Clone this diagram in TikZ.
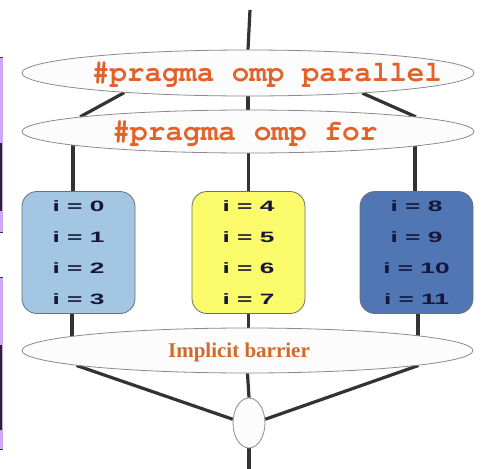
\documentclass[tikz,border=0pt]{standalone}
\usepackage{fontspec}
\setmainfont{Liberation Serif}
\setsansfont{Liberation Sans}
\setmonofont{TeX Gyre Cursor}
\usetikzlibrary{shapes.geometric,backgrounds}
\definecolor{wire}{HTML}{333333}
\definecolor{rim}{HTML}{8A8A8A}
\definecolor{orng}{HTML}{E3622A}
\definecolor{orngb}{HTML}{D2692C}
\definecolor{ink}{HTML}{16163A}
\definecolor{lblue}{HTML}{A3C6E2}
\definecolor{ylw}{HTML}{FAFA6A}
\definecolor{dblue}{HTML}{5076B4}
\definecolor{lilac}{HTML}{D0A6FA}
\tikzset{
  wirel/.style={draw=wire,line width=3.2pt},
  oval/.style={ellipse,draw=rim,line width=0.8pt,fill=white!98!gray,inner sep=0pt},
  pragtext/.style={text=orng,font=\fontsize{23}{24}\selectfont\ttfamily\bfseries,inner sep=0pt},
  bartext/.style={text=orngb,font=\fontsize{21}{22}\selectfont\bfseries,inner sep=0pt},
  iterbox/.style={rectangle,rounded corners=15pt,draw=rim!80!black,line width=0.8pt,
    minimum width=113pt,minimum height=122pt,inner sep=0pt,align=center,text=ink,
    font=\fontsize{15}{31}\selectfont\sffamily\bfseries},
}
\newcommand{\wideit}[1]{\scalebox{1.75}[1]{#1}}
\begin{document}
\begin{tikzpicture}[x=1pt,y=-1pt]
\useasboundingbox (0,0) rectangle (483,469);
% left edge artefacts
\fill[lilac] (0,57) rectangle (3,233);
\fill[black!85] (0,143) rectangle (2,211);
\fill[black!80] (0,56.5) rectangle (3,58);
\fill[black!80] (0,231.5) rectangle (3,233);
\fill[lilac] (0,277) rectangle (3,450);
\fill[black!85] (0,345) rectangle (2,430);
\fill[black!80] (0,276.5) rectangle (3,278);
\fill[black!80] (0,448.5) rectangle (3,450);

\coordinate (top) at (250,10);
\coordinate (bot) at (249,469);

\node[oval,minimum width=452pt,minimum height=46pt] (par) at (248,73) {};
\node[pragtext] (partxt) at (267,75) {\resizebox{350pt}{!}{\#pragma omp parallel}};
\node[oval,minimum width=452pt,minimum height=43pt] (for) at (248,131.5) {};
\node[pragtext] (fortxt) at (245,134) {\resizebox{265pt}{!}{\#pragma omp for}};

\node[iterbox,fill=lblue] (b1) at (78.5,252.5) {\wideit{i = 0}\\\wideit{i = 1}\\\wideit{i = 2}\\\wideit{i = 3}};
\node[iterbox,fill=ylw] (b2) at (248.5,252.5) {\wideit{i = 4}\\\wideit{i = 5}\\\wideit{i = 6}\\\wideit{i = 7}};
\node[iterbox,fill=dblue] (b3) at (416.5,252.5) {\wideit{i = 8}\\\wideit{i = 9}\\\wideit{i = 10}\\\wideit{i = 11}};

\node[oval,minimum width=451pt,minimum height=45pt] (bar) at (247.5,350.5) {};
\node[bartext] (bartxt) at (239,352) {Implicit barrier};
\node[oval,minimum width=32pt,minimum height=50pt] (join) at (249,423) {};

\begin{pgfonlayer}{background}
\draw[wirel] (top) -- (par.north);
\draw[wirel] (par.south) -- (for.north);
\draw[wirel] (par.189.4) -- (for.175.4);
\draw[wirel] (par.-10.3) -- (for.5.5);
\draw[wirel] ([xshift=-5.5pt]b1.north) -- ([xshift=-5.5pt]b1.north |- for.center);
\draw[wirel] (b2.north) -- (b2.north |- for.center);
\draw[wirel] ([xshift=-1.5pt]b3.north) -- ([xshift=-1.5pt]b3.north |- for.center);
\draw[wirel] ([xshift=-6.5pt]b1.south) -- ([xshift=-6.5pt]b1.south |- bar.center);
\draw[wirel] (b2.south) -- (b2.south |- bar.center);
\draw[wirel] ([xshift=1.5pt]b3.south) -- ([xshift=1.5pt]b3.south |- bar.center);
\draw[wirel] (bar.-175.8) -- (join.167);
\draw[wirel] (bar.-5) -- (join.13);
\draw[wirel] (bar.south) -- (join.north);
\draw[wirel] (join.south) -- (bot);
\end{pgfonlayer}
\end{tikzpicture}
\end{document}
